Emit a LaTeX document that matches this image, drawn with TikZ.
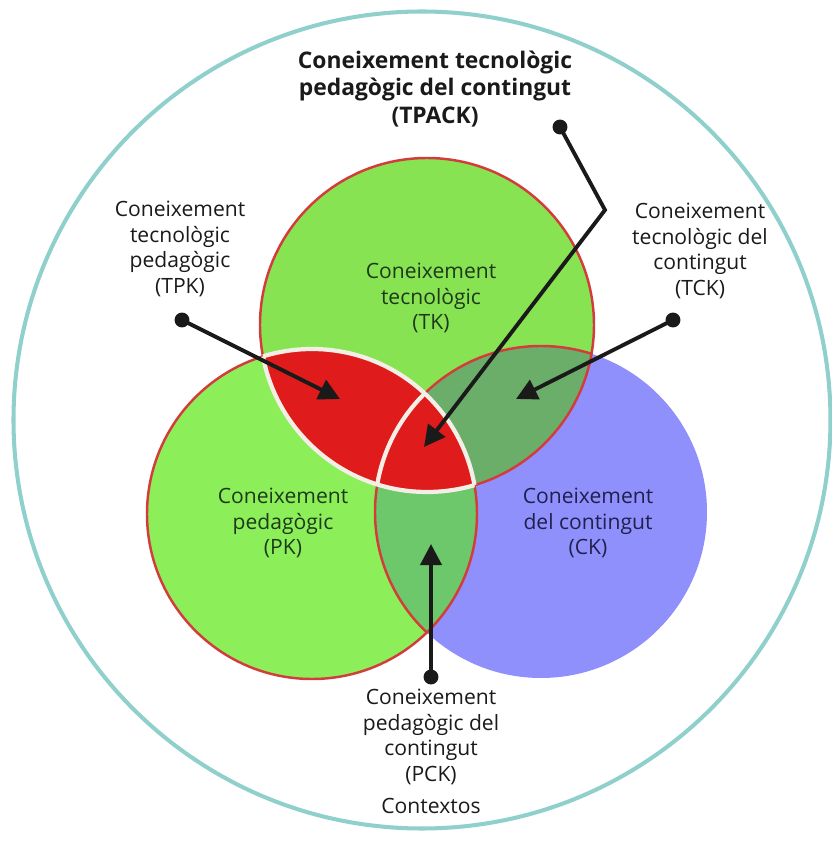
\documentclass[tikz,border=0pt]{standalone}
\usepackage{fontspec}
\setmainfont{Open Sans}
\usepackage{xcolor}
\usepackage{tikz}
\usetikzlibrary{arrows.meta}
\definecolor{ring}{HTML}{8FD0CC}
\definecolor{tkfill}{HTML}{88E352}
\definecolor{pkfill}{HTML}{8CEF5A}
\definecolor{ckfill}{HTML}{9090FC}
\definecolor{redfill}{HTML}{E01B1B}
\definecolor{tckfill}{HTML}{6AAE6A}
\definecolor{pckfill}{HTML}{6CC86A}
\definecolor{rim}{HTML}{D43C3C}
\definecolor{seam}{HTML}{F4EFE6}
\definecolor{greentext}{HTML}{1E3A1A}
\definecolor{bluetext}{HTML}{20204E}
\definecolor{ink}{HTML}{1A1A1A}
\tikzset{
  outer/.style={draw=ring, line width=2.3pt},
  rimline/.style={draw=rim, line width=1.4pt},
  seamline/.style={draw=seam, line width=2.4pt},
  arr/.style={draw=ink, line width=2.2pt, -{Triangle[length=12pt,width=12pt]}},
  pt/.style={circle, fill=ink, inner sep=0pt, minimum size=8.5pt},
  lab/.style={text=ink, align=center, font=\fontsize{12}{14.5}\selectfont},
  inlab/.style={lab, text=greentext},
  title/.style={lab, font=\fontsize{13}{15.5}\selectfont\bfseries}
}
\begin{document}
\begin{tikzpicture}
  \useasboundingbox (0,0) rectangle (16.64,16.82);
  \coordinate (O) at (8.44,8.42);
  \coordinate (T) at (8.54,10.32);
  \coordinate (L) at (6.24,6.54);
  \coordinate (R) at (10.82,6.58);
  \def\rT{3.34} \def\rL{3.3} \def\rR{3.32}

  \draw[outer] (O) circle (8.17);

  % circles and overlaps
  \fill[ckfill] (R) circle (\rR);
  \fill[pkfill] (L) circle (\rL);
  \fill[tkfill] (T) circle (\rT);
  \begin{scope}
    \clip (T) circle (\rT);
    \fill[redfill] (L) circle (\rL);
    \fill[tckfill] (R) circle (\rR);
  \end{scope}
  \begin{scope}
    \clip (L) circle (\rL);
    \fill[pckfill] (R) circle (\rR);
    \clip (T) circle (\rT);
    \fill[redfill] (R) circle (\rR);
  \end{scope}

  \draw[rimline] (T) circle (\rT);
  \draw[rimline] (L) circle (\rL);
  \begin{scope}
    \clip (T) circle (\rT);
    \draw[rimline] (R) circle (\rR);
  \end{scope}
  \begin{scope}
    \clip (L) circle (\rL);
    \draw[rimline] (R) circle (\rR);
  \end{scope}

  % white seams round TPK and TPACK
  \begin{scope}
    \clip (T) circle (\rT);
    \draw[seamline] (L) circle (\rL);
  \end{scope}
  \begin{scope}
    \clip (L) circle (\rL);
    \draw[seamline] (T) circle (\rT);
    \clip (T) circle (\rT);
    \draw[seamline] (R) circle (\rR);
  \end{scope}

  \node[inlab] (tk) at (8.62,10.86) {Coneixement\\tecnològic\\(TK)};
  \node[inlab] (pk) at (5.66,6.36) {Coneixement\\pedagògic\\(PK)};
  \node[inlab, text=bluetext] (ck) at (11.76,6.36) {Coneixement\\del contingut\\(CK)};

  \node[title] (tpack) at (8.7,15.04) {Coneixement tecnològic\\pedagògic del contingut\\(TPACK)};
  \node[lab] (tpk) at (3.6,11.84) {Coneixement\\tecnològic\\pedagògic\\(TPK)};
  \node[lab] (tck) at (14.0,11.8) {Coneixement\\tecnològic del\\contingut\\(TCK)};
  \node[lab] (pck) at (8.62,2.08) {Coneixement\\pedagògic del\\contingut\\(PCK)};
  \node[lab] (ctx) at (8.62,0.7) {Contextos};

  % pointers
  \node[pt] (tpkdot) at (3.64,10.42) {};
  \node[pt] (tckdot) at (13.46,10.42) {};
  \node[pt] (pckdot) at (8.62,3.28) {};
  \node[pt] (tpackdot) at (11.2,14.28) {};
  \coordinate (tpktip) at (6.8,8.84);
  \coordinate (tcktip) at (10.32,8.84);
  \coordinate (pcktip) at (8.62,5.94);
  \coordinate (bend) at (12.1,12.62);
  \coordinate (tpacktip) at (8.48,7.88);

  \draw[arr] (tpkdot.center) -- (tpktip);
  \draw[arr] (tckdot.center) -- (tcktip);
  \draw[arr] (pckdot.center) -- (pcktip);
  \draw[arr] (tpackdot.center) -- (bend) -- (tpacktip);
\end{tikzpicture}
\end{document}
